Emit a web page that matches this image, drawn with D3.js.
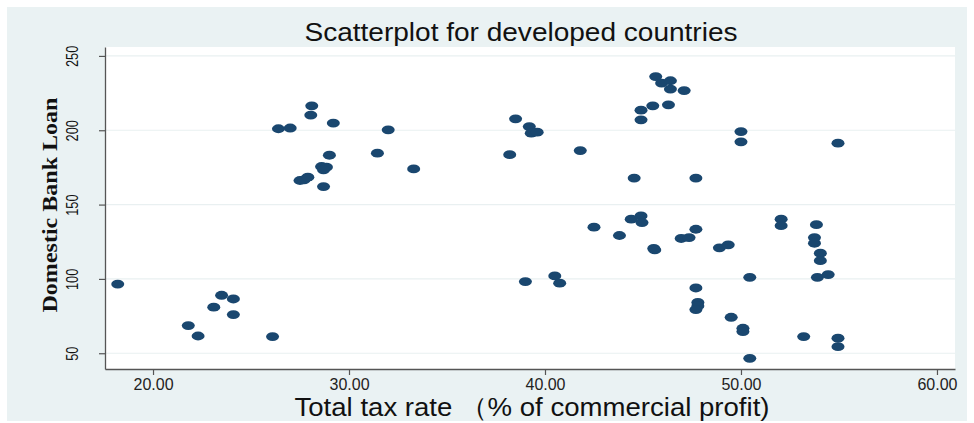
<!DOCTYPE html>
<html>
<head>
<meta charset="utf-8">
<script src="https://cdn.jsdelivr.net/npm/d3@7"></script>
<style>
  html, body { margin: 0; padding: 0; background: #ffffff; }
  svg { display: block; }
</style>
</head>
<body>
<svg id="chart" width="974" height="423"></svg>
<script>
// Total tax rate (% of commercial profit) for each developed country
const taxRate = [
  18.2, 21.8, 22.3, 23.1, 23.5, 24.1, 24.1, 26.1,
  26.4, 27.0, 28.1, 28.05, 29.2, 32.0, 31.45, 29.0,
  28.6, 28.85, 28.7, 27.5, 27.7, 27.9, 28.7, 33.3,
  38.5, 39.2, 39.3, 39.6, 38.2, 41.8, 39.0, 40.5, 40.75,
  42.5, 43.8, 44.55, 44.4, 44.9, 44.95, 45.55, 45.6,
  44.9, 44.9, 45.5, 45.65, 45.95, 46.4, 46.4, 47.1, 46.3,
  47.7, 47.7, 46.95, 47.35, 47.7, 47.8, 47.8, 47.7,
  48.9, 49.35, 49.5, 50.0, 50.0, 50.1, 50.1, 50.45, 50.45,
  52.05, 52.05, 53.2, 53.85, 53.75, 53.75, 54.05, 54.05,
  53.9, 54.45, 54.95, 54.95, 54.95
];

// Domestic bank loan, same country order
const bankLoan = [
  96.5, 68.6, 61.6, 81.0, 89.0, 86.5, 76.0, 61.2,
  201.0, 201.5, 216.4, 210.2, 204.8, 200.3, 184.6, 183.2,
  175.6, 175.2, 173.4, 166.2, 166.6, 168.4, 162.1, 174.0,
  207.7, 202.5, 198.0, 198.7, 183.6, 186.3, 98.2, 102.0, 97.1,
  134.8, 129.2, 167.8, 140.2, 142.4, 137.9, 120.5, 119.5,
  213.5, 207.0, 216.4, 236.1, 231.7, 233.3, 227.7, 226.7, 217.1,
  167.8, 133.4, 127.2, 127.8, 93.9, 84.2, 81.8, 79.4,
  120.9, 122.9, 74.2, 199.1, 192.2, 66.8, 64.6, 101.1, 46.6,
  140.2, 135.8, 61.2, 136.5, 127.8, 124.0, 117.3, 112.3,
  101.1, 102.9, 191.3, 60.1, 54.4
];

const xTicks = [20, 30, 40, 50, 60];
const yTicks = [50, 100, 150, 200, 250];

const titleText = "Scatterplot for developed countries";
const xTitle = "Total tax rate （% of commercial profit)";
const yTitle = "Domestic Bank Loan";

const points = taxRate.map((t, i) => ({ x: t, y: bankLoan[i] }));

const svg = d3.select("#chart");
const plot = { left: 105, right: 955, top: 47, bottom: 369 };
const navy = "#1a476f";
const sans = "'Liberation Sans', Arial, sans-serif";

// Outer panel and plot region
svg.append("rect")
  .attr("x", 7).attr("y", 7).attr("width", 960).attr("height", 414)
  .attr("fill", "#eaf2f3");
svg.append("rect")
  .attr("x", plot.left).attr("y", plot.top)
  .attr("width", plot.right - plot.left).attr("height", plot.bottom - plot.top)
  .attr("fill", "#ffffff");

const x = d3.scaleLinear().domain([17.55, 60.92]).range([plot.left, plot.right]);
const y = d3.scaleLinear().domain([39.4, 256]).range([plot.bottom, plot.top]);

// Horizontal grid lines
svg.append("g")
  .selectAll("line")
  .data(yTicks)
  .join("line")
  .attr("x1", plot.left).attr("x2", plot.right)
  .attr("y1", d => y(d)).attr("y2", d => y(d))
  .attr("stroke", "#e9f0f1").attr("stroke-width", 1.2);

// Points
svg.append("g")
  .selectAll("ellipse")
  .data(points)
  .join("ellipse")
  .attr("cx", d => x(d.x))
  .attr("cy", d => y(d.y))
  .attr("rx", 6.5).attr("ry", 4.4)
  .attr("fill", navy);

// Y axis (labels rotated and condensed)
const yAxis = svg.append("g")
  .attr("transform", `translate(${plot.left},0)`)
  .call(d3.axisLeft(y).tickValues(yTicks).tickSize(6).tickSizeOuter(0));
yAxis.select(".domain").attr("stroke", "#555").attr("stroke-width", 1.3);
yAxis.selectAll(".tick line").attr("stroke", "#555").attr("stroke-width", 1.2);
yAxis.selectAll(".tick text")
  .attr("x", null).attr("dy", null)
  .attr("transform", "translate(-27,0) rotate(-90) scale(0.8,1)")
  .attr("text-anchor", "middle")
  .attr("dy", "0em")
  .style("font-family", sans)
  .style("font-size", "16px")
  .attr("fill", "#111");

// X axis
const xAxis = svg.append("g")
  .attr("transform", `translate(0,${plot.bottom})`)
  .call(d3.axisBottom(x).tickValues(xTicks).tickSize(6).tickSizeOuter(0).tickFormat(d3.format(".2f")));
xAxis.select(".domain").attr("stroke", "#555").attr("stroke-width", 1.3);
xAxis.selectAll(".tick line").attr("stroke", "#555").attr("stroke-width", 1.2);
xAxis.selectAll(".tick text")
  .attr("y", 10)
  .style("font-family", sans)
  .style("font-size", "16px")
  .attr("fill", "#222");

// Titles
svg.append("text")
  .attr("x", 521).attr("y", 41)
  .attr("text-anchor", "middle")
  .attr("textLength", 433).attr("lengthAdjust", "spacingAndGlyphs")
  .style("font-family", sans).style("font-size", "26px")
  .attr("fill", "#111")
  .text(titleText);

svg.append("text")
  .attr("x", 532).attr("y", 416)
  .attr("text-anchor", "middle")
  .attr("textLength", 475).attr("lengthAdjust", "spacingAndGlyphs")
  .style("font-family", sans).style("font-size", "26px")
  .attr("fill", "#111")
  .text(xTitle);

svg.append("text")
  .attr("transform", "translate(57,205) rotate(-90)")
  .attr("text-anchor", "middle")
  .attr("textLength", 215).attr("lengthAdjust", "spacingAndGlyphs")
  .style("font-family", "'Liberation Serif', 'Times New Roman', serif")
  .style("font-size", "21px").style("font-weight", "bold")
  .attr("fill", "#111")
  .text(yTitle);
</script>
</body>
</html>
